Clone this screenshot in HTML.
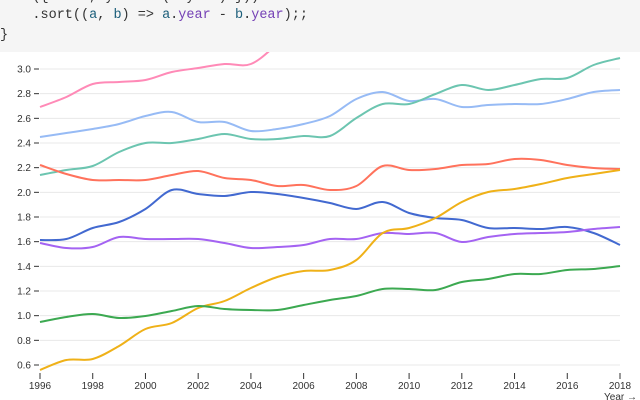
<!DOCTYPE html>
<html><head><meta charset="utf-8"><style>
body{margin:0;width:640px;height:400px;overflow:hidden;background:#fff;font-family:"Liberation Sans",sans-serif}
#code{position:absolute;left:0;top:0;width:640px;height:52px;background:#f5f5f5;font-family:"Liberation Mono",monospace;font-size:13.5px;color:#333;z-index:2}
#code div{position:absolute;white-space:pre}
.v{color:#1b5e7a}.p{color:#7440b5}
svg{position:absolute;left:0;top:0}
</style></head><body>
<div id="code">
<div style="top:-10px;left:0">    ({ ...d, year: +(d.year) }))</div>
<div style="top:8px;left:0">    .sort((<span class="v">a</span>, <span class="v">b</span>) =&gt; <span class="v">a</span>.<span class="p">year</span> - <span class="v">b</span>.<span class="p">year</span>);;</div>
<div style="top:28px;left:0">}</div>
</div>
<svg id="s" width="640" height="400" font-size="10" fill="#333"></svg>
<script>
const s=document.getElementById('s');const NS='http://www.w3.org/2000/svg';
function el(t,a,txt){const e=document.createElementNS(NS,t);for(const k in a)e.setAttribute(k,a[k]);if(txt!=null)e.textContent=txt;s.appendChild(e);return e;}
const X=y=>40+(y-1996)*580/22, Y=v=>69+123.33*(3-v);
for(let i=0;i<13;i++){const v=0.6+i*0.2,y=Y(v);el('line',{x1:40,x2:620,y1:y,y2:y,stroke:'#e8e8e8'});el('line',{x1:34,x2:39,y1:y,y2:y,stroke:'#333'});el('text',{x:31,y:y+3.5,'text-anchor':'end'},v.toFixed(1));}
for(let yr=1996;yr<=2018;yr+=2){const x=X(yr);el('line',{x1:x,x2:x,y1:373,y2:379,stroke:'#333'});el('text',{x:x,y:389,'text-anchor':'middle'},yr);}
el('text',{x:637,y:400,'text-anchor':'end'},'Year →');
const D={
'#ff8ab7':[107,97,84,82,80,72,68,64,64,44,20,10,5,20,50],
'#97bbf5':[137,133,129,124,116,112,122,122,131,129,124,116,99,92,101,99,107,105,104,104,99,92,90],
'#6cc5b0':[175,170,166,152,143,143,139,134,139,139,136,136,118,104,104,94,85,90,85,79,78,65,58],
'#ff725c':[165,174,180,180,180,175,171,178,180,186,185,190,186,166,170,169,165,164,159,160,165,168,169],
'#4269d0':[240,239,228,222,209,190,194,196,192,194,198,203,209,202,213,218,220,228,228,229,227,233,245],
'#a463f2':[243,248,247,237,239,239,239,243,248,247,245,239,239,233,234,233,242,237,234,233,232,229,227],
'#efb118':[370,360,359,346,329,323,308,301,288,277,271,270,260,233,228,218,202,192,189,184,178,174,170],
'#3ca951':[322,317,314,318,316,311,306,309,310,310,305,300,296,289,289,290,282,279,274,274,270,269,266]};
for(const c in D){const p=D[c].map((y,i)=>[X(1996+i),y]);let d='M'+p[0];
for(let i=0;i<p.length-1;i++){const a=p[i-1]||p[i],b=p[i],c2=p[i+1],e=p[i+2]||c2;
d+=`C${b[0]+(c2[0]-a[0])/6},${b[1]+(c2[1]-a[1])/6} ${c2[0]-(e[0]-b[0])/6},${c2[1]-(e[1]-b[1])/6} ${c2[0]},${c2[1]}`;}
el('path',{d:d,fill:'none',stroke:c,'stroke-width':2});}
</script>
</body></html>
